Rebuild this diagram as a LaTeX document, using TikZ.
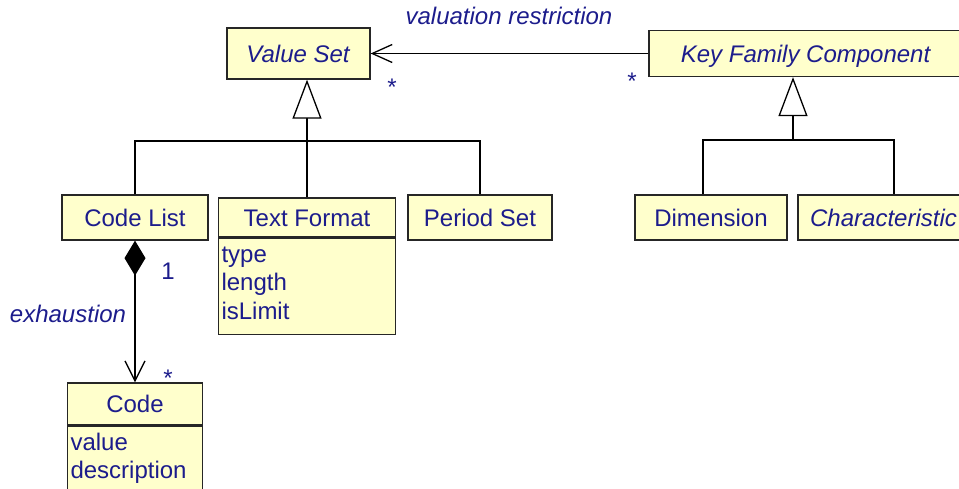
\documentclass[tikz,border=0pt]{standalone}
\usepackage{fontspec}
\setmainfont{Liberation Sans}
\usetikzlibrary{arrows.meta}
\definecolor{umlfill}{RGB}{255,255,204}
\definecolor{umltext}{RGB}{28,28,140}

\begin{document}
\begin{tikzpicture}[
  x=1pt,y=-1pt,
  font=\fontsize{24}{28.5}\selectfont,
  cls/.style={draw=black!85,line width=1.3pt,fill=umlfill,text=umltext,inner sep=0pt,
              minimum height=45pt,text height=17.5pt,text depth=0pt},
  attrs/.style={draw=black!85,line width=1.3pt,fill=umlfill,text=umltext,inner xsep=3pt,
                inner ysep=4pt,align=left,text height=20pt,anchor=north},
  lbl/.style={text=umltext,inner sep=0pt,anchor=base},
  edge/.style={draw=black,line width=1.3pt},
  gen/.style={edge,-{Triangle[open,length=39pt,width=29pt,fill=white]}},
  assoc/.style={edge,-{Straight Barb[length=20pt,width=18pt]}},
  comp/.style={edge,{Diamond[length=35pt,width=21pt]}-{Straight Barb[length=20pt,width=20pt]}}
]
\useasboundingbox (0,0) rectangle (959,488);

% classes
\node[cls,minimum width=143pt,minimum height=51pt] (vs) at (298.5,53.5) {\textit{Value Set}};
\node[cls,minimum width=314pt,minimum height=46pt] (kfc) at (806,53.5) {\textit{Key Family Component}};
\node[cls,minimum width=146pt] (cl) at (135,217.5) {Code List};
\node[cls,minimum width=177pt,minimum height=39pt] (tf) at (307,217.5) {Text Format};
\node[attrs,text width=171pt,text depth=68pt] (tfattr) at (tf.south) {type\\length\\isLimit};
\node[cls,minimum width=144pt] (ps) at (480,217.5) {Period Set};
\node[cls,minimum width=152pt] (dim) at (711,217.5) {Dimension};
\node[cls,minimum width=171pt] (chr) at (883.5,217.5) {\textit{Characteristic}};
\node[cls,minimum width=135pt,minimum height=42pt] (code) at (135,404) {Code};
\node[attrs,text width=129pt,text depth=50pt] (codeattr) at (code.south) {value\\description};

% generalisations
\coordinate (vsj) at (307,141);
\draw[edge] (cl.north) |- (vsj) -| (ps.north);
\draw[edge] (tf.north) -- (vsj);
\draw[gen] (vsj) -- (vsj |- vs.south);
\coordinate (kfj) at (793,140);
\draw[edge] ([xshift=-8pt]dim.north) |- (kfj) -| ([xshift=10.5pt]chr.north);
\draw[gen] (kfj) -- (kfj |- kfc.south);

% associations
\draw[assoc] (kfc.west) -- (vs.east);
\draw[comp] (cl.south) -- (code.north);

% labels
\node[lbl] (vrlbl) at (509,24) {\textit{valuation restriction}};
\node[lbl] (vsmult) at (392,95.5) {*};
\node[lbl] (kfcmult) at (632,89) {*};
\node[lbl] (clmult) at (168,279) {1};
\node[lbl] (exlbl) at (68,322) {\textit{exhaustion}};
\node[lbl] (codemult) at (168,386) {*};
\end{tikzpicture}
\end{document}
